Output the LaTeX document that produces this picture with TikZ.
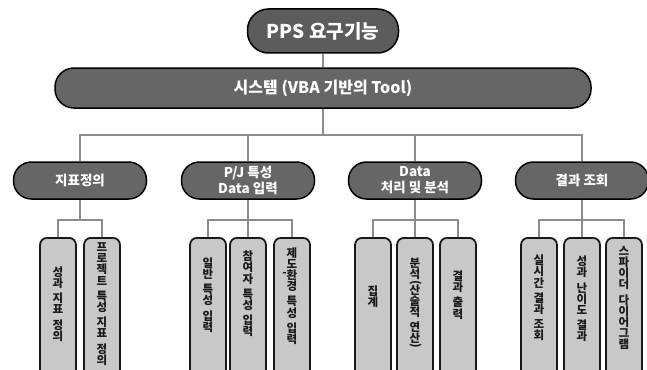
\documentclass[tikz,border=0pt]{standalone}
\usepackage{fontspec}
\setmainfont{Noto Sans CJK KR}
\usepackage{graphicx}
\definecolor{topgray}{RGB}{92,92,92}
\definecolor{catgray}{RGB}{102,102,102}
\definecolor{leafgray}{RGB}{200,200,200}
\definecolor{conngray}{RGB}{140,140,140}
\newcommand{\vpopen}[1]{\makebox[0pt][l]{\makebox[1em]{\raisebox{8pt}[0pt][0pt]{\rotatebox[origin=c]{-90}{(}}}}#1}
\newcommand{\vpclose}[1]{\makebox[0pt][l]{\makebox[1em]{\raisebox{-7pt}[0pt][0pt]{\rotatebox[origin=c]{-90}{)}}}}#1}
\begin{document}
\begin{tikzpicture}[x=1pt,y=-1pt,
  topbox/.style={draw=black, line width=1.5pt, fill=topgray, rounded corners=21pt,
    minimum width=151pt, minimum height=44pt, inner sep=0pt, text=white,
    font=\bfseries\fontsize{19}{21}\selectfont},
  sysbox/.style={draw=black, line width=1.5pt, fill=catgray, rounded corners=19pt,
    minimum width=536pt, minimum height=40pt, inner sep=0pt, text=white,
    font=\bfseries\fontsize{16}{18}\selectfont},
  catbox/.style={draw=black, line width=1.5pt, fill=catgray, rounded corners=18pt,
    minimum width=133pt, minimum height=37pt, inner sep=0pt, text=white, align=center,
    font=\bfseries\fontsize{13.5}{16}\selectfont},
  leafbox/.style={draw=black!90, line width=1.8pt, fill=leafgray, rounded corners=7pt,
    minimum width=36pt, minimum height=150pt, inner sep=0pt, anchor=north},
  leaftext/.style={align=center, inner sep=0pt, text=black!90,
    font=\bfseries\fontsize{11.5}{11.2}\selectfont},
  conn/.style={draw=conngray, line width=1.8pt}
]
\useasboundingbox (0,0) rectangle (647,369);
\clip (0,0) rectangle (647,369);

% top
\node[topbox] (pps) at (323,31) {PPS 요구기능};
\node[sysbox] (sys) at (323,88) {시스템 (VBA 기반의 Tool)};

% categories
\node[catbox] (c1) at (80,180.5) {지표정의};
\node[catbox] (c2) at (248,180.5) {P/J 특성\\Data 입력};
\node[catbox] (c3) at (415,180.5) {Data\\처리 및 분석};
\node[catbox] (c4) at (582,180.5) {결과 조회};

% leaves
\node[leafbox] (l1) at (58,237) {};
\node[leafbox] (l2) at (102,237) {};
\node[leafbox] (l3) at (208,237) {};
\node[leafbox] (l4) at (248,237) {};
\node[leafbox] (l5) at (292,237) {};
\node[leafbox] (l6) at (373,237) {};
\node[leafbox] (l7) at (415,237) {};
\node[leafbox] (l8) at (458,237) {};
\node[leafbox] (l9) at (539,237) {};
\node[leafbox] (l10) at (582,237) {};
\node[leafbox] (l11) at (624,237) {};

\node[leaftext] (t1) at (58,304) {성\\과\\[4pt]지\\표\\[4pt]정\\의};
\node[leaftext] (t2) at (102,304) {프\\로\\젝\\트\\[4pt]특\\성\\[4pt]지\\표\\[4pt]정\\의};
\node[leaftext] (t3) at (208,295) {일\\반\\[4pt]특\\성\\[4pt]입\\력};
\node[leaftext] (t4) at (248,294) {참\\여\\자\\[4pt]특\\성\\[4pt]입\\력};
\node[leaftext] (t5) at (292,296) {제\\도\\\llap{\raisebox{3pt}{-}}환\\경\\[4pt]특\\성\\[4pt]입\\력};
\node[leaftext] (t6) at (373,297) {집\\계};
\node[leaftext] (t7) at (415,301) {분\\석\\[4pt]\vpopen{산}\\술\\적\\[4pt]연\\\vpclose{산}};
\node[leaftext] (t8) at (458,295) {결\\과\\[4pt]출\\력};
\node[leaftext] (t9) at (539,298) {실\\시\\간\\[4pt]결\\과\\[4pt]조\\회};
\node[leaftext] (t10) at (582,299) {성\\과\\[4pt]난\\이\\도\\[4pt]결\\과};
\node[leaftext] (t11) at (624,298) {스\\파\\이\\더\\[4pt]다\\이\\어\\그\\램};

% bus coordinates
\coordinate (bus) at (323,135);
\coordinate (b1) at (80,220);
\coordinate (b2) at (248,220);
\coordinate (b3) at (415,220);
\coordinate (b4) at (582,220);

% connectors
\draw[conn] (pps.south) -- (sys.north);
\draw[conn] (sys.south) -- (bus);
\draw[conn] (c1.north) |- (bus) -| (c4.north);
\draw[conn] (c2.north) -- (c2.north |- bus);
\draw[conn] (c3.north) -- (c3.north |- bus);

\draw[conn] (c1.south) -- (b1);
\draw[conn] (l1.north) |- (b1) -| (l2.north);
\draw[conn] (c2.south) -- (l4.north);
\draw[conn] (l3.north) |- (b2) -| (l5.north);
\draw[conn] (c3.south) -- (l7.north);
\draw[conn] (l6.north) |- (b3) -| (l8.north);
\draw[conn] (c4.south) -- (l10.north);
\draw[conn] (l9.north) |- (b4) -| (l11.north);
\end{tikzpicture}
\end{document}
